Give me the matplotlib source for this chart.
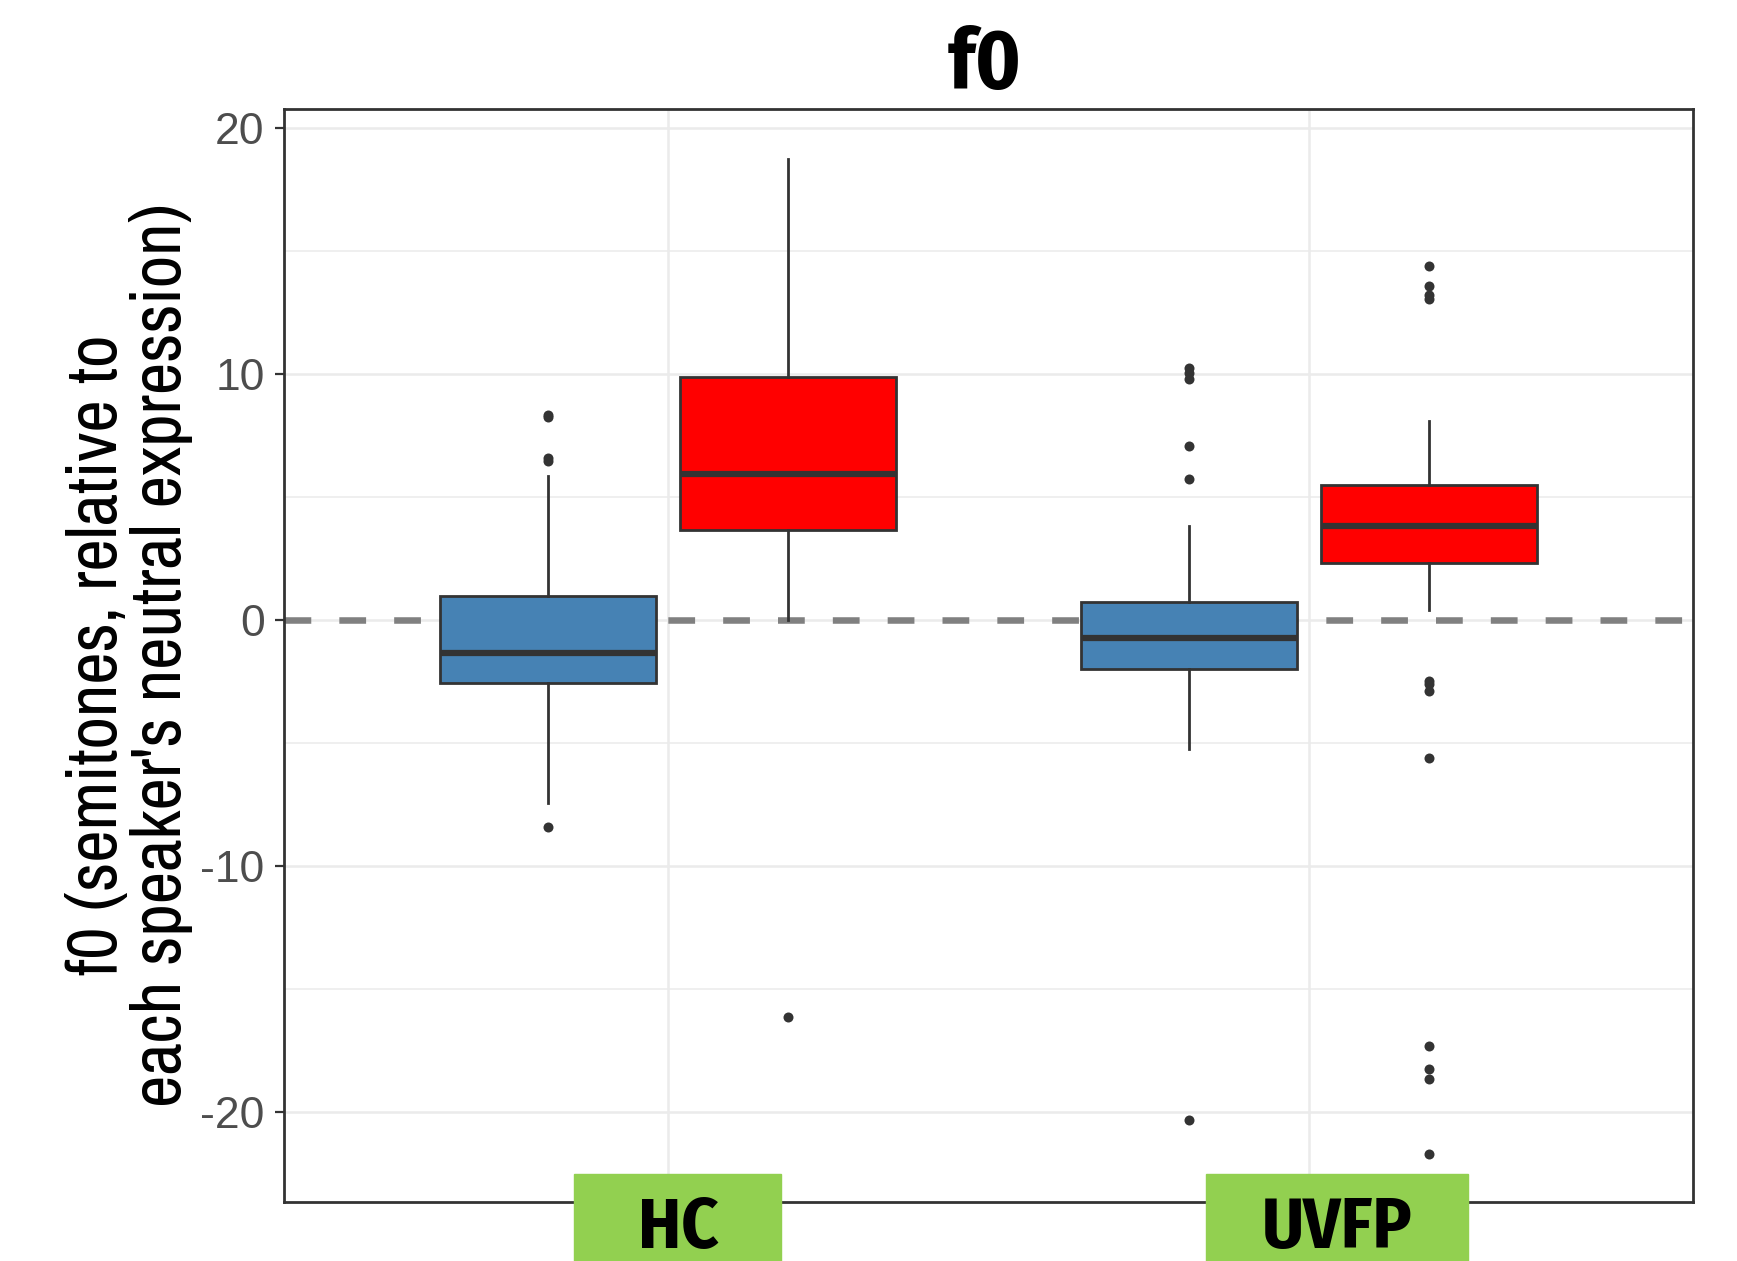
import matplotlib
matplotlib.use("Agg")
import matplotlib.pyplot as plt
from matplotlib import font_manager as fm
from matplotlib.patches import Rectangle
from matplotlib.ticker import FixedLocator

# values (semitones)
groups = ["HC", "UVFP"]

blue_q1 = [-2.56, -1.98]
blue_med = [-1.32, -0.73]
blue_q3 = [0.96, 0.72]
blue_whislo = [-7.44, -5.24]
blue_whishi = [5.87, 3.81]
blue_fliers = [[8.35, 8.25, 6.58, 6.48, -8.39],
               [10.25, 10.05, 9.80, 7.09, 5.72, -20.33]]

red_q1 = [3.67, 2.33]
red_med = [5.93, 3.81]
red_q3 = [9.86, 5.49]
red_whislo = [0.0, 0.39]
red_whishi = [18.73, 8.09]
red_fliers = [[-16.12],
              [14.38, 13.56, 13.20, 13.03, -2.48, -2.61, -2.88, -5.60,
               -17.30, -18.25, -18.66, -21.70]]

y_ticks = [-20, -10, 0, 10, 20]
y_ticklabels = ["-20", "-10", "0", "10", "20"]

BLUE = "#4682B4"
RED = "#FF0000"
INK = "#333333"
GRID = "#EBEBEB"
GREEN = "#92D050"

W, H = 1737, 1261


def pick(candidates, weight="normal"):
    for fam, stretch in candidates:
        try:
            fm.findfont(fm.FontProperties(family=fam, stretch=stretch, weight=weight),
                        fallback_to_default=False)
            return dict(family=[fam, "DejaVu Sans"], fontstretch=stretch)
        except Exception:
            pass
    return dict(family=["DejaVu Sans"], fontstretch="condensed")


LABEL_FONT = pick([("Archivo Narrow", "condensed"), ("Fira Sans Condensed", "condensed"),
                   ("DejaVu Sans", "condensed")])
HEAD_FONT = pick([("Fira Sans Condensed", "condensed"), ("DejaVu Sans", "condensed")],
                 weight="bold")
TICK_FONT = pick([("Liberation Sans", "normal"), ("DejaVu Sans", "normal")])


def stats(q1, med, q3, lo, hi, fl):
    return [dict(q1=a, med=b, q3=c, whislo=d, whishi=e, fliers=f)
            for a, b, c, d, e, f in zip(q1, med, q3, lo, hi, fl)]


fig = plt.figure(figsize=(W / 100, H / 100), dpi=100)
ax = fig.add_axes([284 / W, 1 - 1202 / H, (1693 - 284) / W, (1202 - 109) / H])

xs = list(range(1, len(groups) + 1))
off, bw = 0.1875, 0.3375
for st, col, sgn in [(stats(blue_q1, blue_med, blue_q3, blue_whislo, blue_whishi, blue_fliers), BLUE, -1),
                     (stats(red_q1, red_med, red_q3, red_whislo, red_whishi, red_fliers), RED, 1)]:
    ax.bxp(st, positions=[x + sgn * off for x in xs], widths=bw, patch_artist=True,
           showcaps=False, manage_ticks=False,
           boxprops=dict(facecolor=col, edgecolor=INK, linewidth=2.0),
           medianprops=dict(color=INK, linewidth=4.5, solid_capstyle="butt"),
           whiskerprops=dict(color=INK, linewidth=2.0),
           flierprops=dict(marker="o", markerfacecolor=INK, markeredgecolor="none",
                           markersize=7.2),
           zorder=3)

ax.axhline(0, color="#808080", lw=4.7, ls=(0, (4.1, 4.3)), zorder=2)

ax.set_xlim(0.4, 2.6)
ax.set_ylim(-23.65, 20.77)
ax.set_xticks(xs)
ax.set_xticklabels([])
ax.set_yticks(y_ticks)
ax.set_yticklabels(y_ticklabels, **TICK_FONT)
ax.yaxis.set_minor_locator(FixedLocator([-15, -5, 5, 15]))
ax.grid(True, which="major", color=GRID, lw=1.8, zorder=0)
ax.grid(True, which="minor", axis="y", color=GRID, lw=1.1, zorder=0)
ax.set_axisbelow(True)
ax.tick_params(axis="both", which="major", length=6.5, width=1.6, color=INK,
               labelsize=32, labelcolor="#4D4D4D", pad=7.5)
ax.tick_params(axis="y", which="minor", length=0)
for s in ax.spines.values():
    s.set_color(INK)
    s.set_linewidth(2.0)

title = fig.text(985 / W, 1 - 88.5 / H, "f0", ha="center", va="baseline",
                 fontsize=64, fontweight="bold", **HEAD_FONT)

ylab = fig.text(130 / W, 1 - 655 / H,
                "f0 (semitones, relative to\neach speaker's neutral expression)",
                rotation=90, ha="center", va="center", multialignment="center",
                fontsize=44, linespacing=1.0, color="black", **LABEL_FONT)

# green category labels sitting over the bottom axis
cats = []
for name, x0, x1, xc in [(groups[0], 574, 781, 678), (groups[1], 1206, 1468, 1337)]:
    fig.add_artist(Rectangle((x0 / W, 0), (x1 - x0) / W, (H - 1174) / H,
                             transform=fig.transFigure, color=GREEN, zorder=10))
    cats.append(fig.text(xc / W, 1 - 1248 / H, name, ha="center", va="baseline",
                         fontsize=48, fontweight="bold", zorder=11, **HEAD_FONT))

# fit text sizes to the widths measured on the reference
fig.canvas.draw()
r = fig.canvas.get_renderer()
t_w = title.get_window_extent(r).width
title.set_fontsize(64 * 74 / t_w)
y_h = ylab.get_window_extent(r).height
ylab.set_fontsize(44 * 903 / y_h)
cw = sum(c.get_window_extent(r).width for c in cats)
for c in cats:
    c.set_fontsize(48 * (87 + 144) / cw)

fig.savefig("out.png", dpi=100)
